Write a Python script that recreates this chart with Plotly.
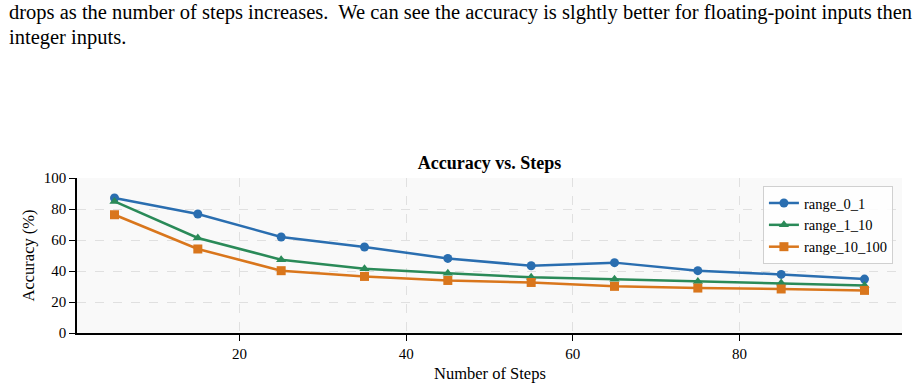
import plotly.graph_objects as go

steps = [5, 15, 25, 35, 45, 55, 65, 75, 85, 95]
range_0_1 = [87.1, 76.8, 61.9, 55.5, 48.1, 43.4, 45.4, 40.2, 37.8, 34.8]
range_1_10 = [84.9, 61.3, 47.3, 41.5, 38.5, 35.9, 34.6, 33.3, 32.3, 30.7]
range_10_100 = [76.3, 54.2, 40.2, 36.5, 33.9, 32.6, 30.1, 29.0, 28.4, 27.5]
series_names = ["range_0_1", "range_1_10", "range_10_100"]
colors = ["#2a6eb0", "#2a8a58", "#d9761c"]
symbols = ["circle", "triangle-up", "square"]

SERIF = "Liberation Serif, Times New Roman, serif"

fig = go.Figure()
for name, vals, col, sym in zip(series_names, [range_0_1, range_1_10, range_10_100], colors, symbols):
    fig.add_trace(go.Scatter(
        x=steps, y=vals, mode="lines+markers", name=name,
        line=dict(color=col, width=2.5),
        marker=dict(symbol=sym, size=9, color=col),
    ))

W, H = 920, 388
L, R, T, B = 77, 18, 178, 55
ph = H - T - B
pw = W - L - R

def py(ypix):
    return (H - B - ypix) / ph

def px(xpix):
    return (xpix - L) / pw

fig.update_layout(
    width=W, height=H,
    margin=dict(l=L, r=R, t=T, b=B, autoexpand=False),
    paper_bgcolor="white",
    plot_bgcolor="#f9f9f9",
    font=dict(family=SERIF, size=14, color="black"),
    title=dict(text="<b>Accuracy vs. Steps</b>", x=(L + pw / 2) / W, xanchor="center",
               y=1 - 163 / H, yanchor="middle", font=dict(size=18, family=SERIF)),
    showlegend=True,
    legend=dict(x=0.989, xanchor="right", y=0.948, yanchor="top",
                bgcolor="rgba(255,255,255,0.85)", bordercolor="#d0d0d0", borderwidth=1,
                font=dict(size=14.5, family=SERIF), tracegroupgap=0, itemwidth=30),
)
fig.update_xaxes(
    range=[0.5, 99.5], tickvals=[20, 40, 60, 80], showline=True, linecolor="black", linewidth=1.5,
    ticks="outside", ticklen=6, tickcolor="black", mirror=False, automargin=False,
    showgrid=True, gridcolor="#e0e0e0", griddash="dash", gridwidth=1, zeroline=False,
    tickfont=dict(size=15),
)
fig.update_yaxes(
    range=[0, 100], tickvals=[0, 20, 40, 60, 80, 100], showline=True, linecolor="black", linewidth=1.5,
    ticks="outside", ticklen=6, tickcolor="black", mirror=False, automargin=False,
    showgrid=True, gridcolor="#e0e0e0", griddash="dash", gridwidth=1, zeroline=False,
    tickfont=dict(size=15),
)

# axis titles placed as annotations for exact positioning
fig.add_annotation(text="Number of Steps", xref="paper", yref="paper", x=0.5, y=py(373),
                   xanchor="center", yanchor="middle", showarrow=False,
                   font=dict(size=16.5, family=SERIF, color="black"))
fig.add_annotation(text="Accuracy (%)", xref="paper", yref="paper", x=px(28), y=0.5,
                   xanchor="center", yanchor="middle", textangle=-90, showarrow=False,
                   font=dict(size=16.5, family=SERIF, color="black"))

text_lines = [
    "drops as the number of steps increases.  We can see the accuracy is slghtly better for floating-point inputs then",
    "integer inputs.",
]
for i, t in enumerate(text_lines):
    fig.add_annotation(
        text=t, xref="paper", yref="paper", x=px(7), xanchor="left",
        y=py(12 + 25 * i), yanchor="middle", showarrow=False,
        font=dict(size=20.5, family=SERIF, color="black"),
    )

fig.write_html("out.html")
